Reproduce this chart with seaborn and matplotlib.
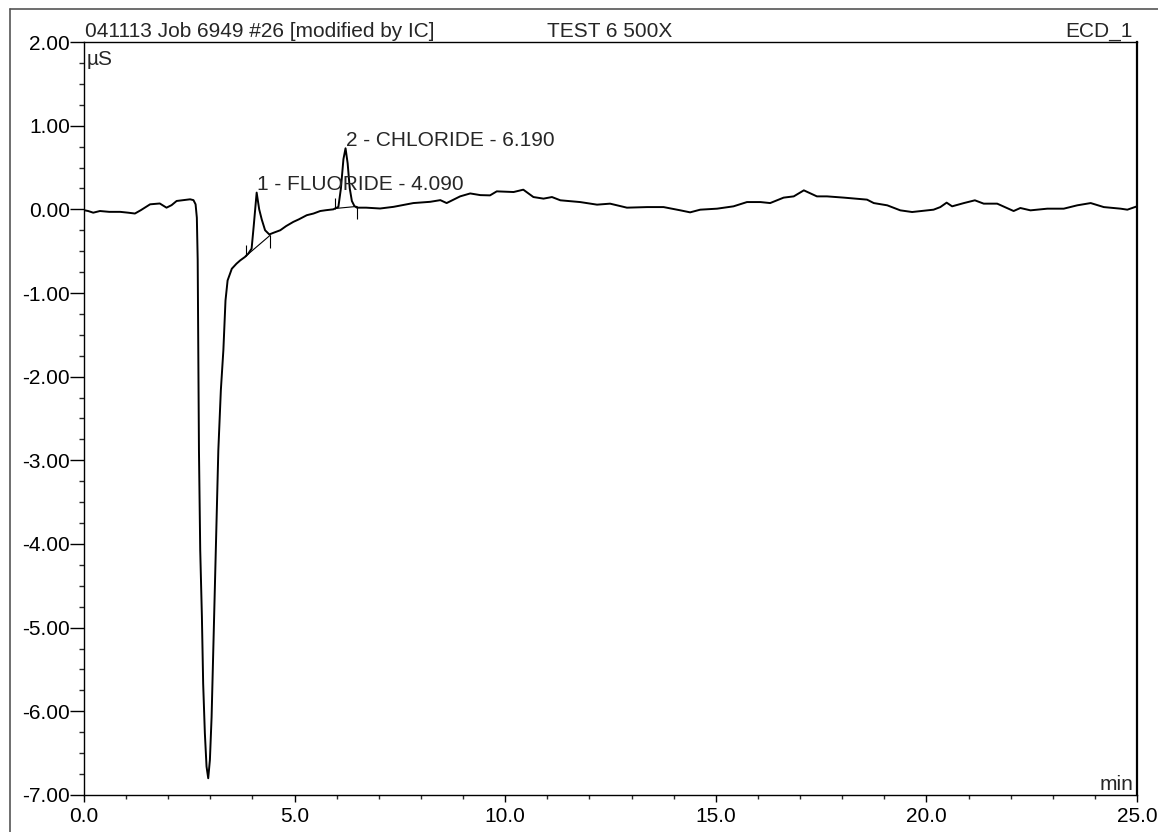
import matplotlib
matplotlib.use('Agg')
import matplotlib.pyplot as plt
import seaborn as sns
import numpy as np
import pandas as pd
from matplotlib.lines import Line2D
from matplotlib.ticker import MultipleLocator, FormatStrFormatter

# chromatogram trace (time in min, signal in uS)
time_min = [0.00, 0.10, 0.22, 0.38, 0.60, 0.86, 1.05, 1.21, 1.35, 1.57,
            1.80, 1.96, 2.08, 2.20, 2.35, 2.52, 2.60, 2.65, 2.68, 2.70,
            2.73, 2.76, 2.80, 2.83, 2.87, 2.91, 2.95, 2.99, 3.03, 3.07,
            3.11, 3.15, 3.19, 3.25, 3.31, 3.36, 3.41, 3.51, 3.62, 3.71,
            3.82, 3.90, 3.98, 4.03, 4.10, 4.16, 4.22, 4.30, 4.40, 4.50,
            4.66, 4.80, 4.97, 5.10, 5.29, 5.45, 5.61, 5.75, 5.92, 6.04,
            6.10, 6.16, 6.21, 6.26, 6.31, 6.36, 6.42, 6.48, 6.70, 7.03,
            7.35, 7.82, 8.22, 8.46, 8.61, 8.93, 9.17, 9.41, 9.64, 9.80,
            10.20, 10.43, 10.67, 10.91, 11.11, 11.31, 11.78, 12.18, 12.49, 12.89,
            13.37, 13.76, 14.16, 14.39, 14.63, 15.03, 15.42, 15.74, 16.06, 16.29,
            16.61, 16.85, 17.09, 17.40, 17.64, 18.04, 18.59, 18.75, 19.07, 19.38,
            19.66, 20.17, 20.33, 20.48, 20.61, 20.89, 21.15, 21.36, 21.68, 22.07,
            22.23, 22.47, 22.87, 23.26, 23.58, 23.90, 24.21, 24.61, 24.77, 25.00]
signal_us = [-0.01, -0.02, -0.04, -0.02, -0.03, -0.03, -0.04, -0.05, -0.01, 0.06,
             0.07, 0.02, 0.05, 0.10, 0.11, 0.12, 0.11, 0.06, -0.10, -0.60,
             -2.88, -4.07, -4.87, -5.67, -6.26, -6.66, -6.80, -6.58, -6.07, -5.27,
             -4.47, -3.68, -2.88, -2.16, -1.68, -1.09, -0.85, -0.71, -0.65, -0.61,
             -0.57, -0.53, -0.47, -0.20, 0.20, 0.00, -0.12, -0.25, -0.30, -0.28,
             -0.25, -0.20, -0.15, -0.12, -0.07, -0.05, -0.02, -0.01, 0.00, 0.03,
             0.25, 0.60, 0.73, 0.55, 0.25, 0.10, 0.04, 0.02, 0.02, 0.01,
             0.03, 0.075, 0.09, 0.11, 0.075, 0.155, 0.19, 0.17, 0.167, 0.215,
             0.207, 0.235, 0.147, 0.128, 0.147, 0.108, 0.087, 0.056, 0.068, 0.02,
             0.027, 0.027, -0.012, -0.036, -0.004, 0.008, 0.036, 0.087, 0.087, 0.075,
             0.14, 0.155, 0.227, 0.155, 0.155, 0.14, 0.116, 0.075, 0.048, -0.012,
             -0.032, -0.004, 0.027, 0.08, 0.036, 0.075, 0.108, 0.068, 0.068, -0.02,
             0.016, -0.012, 0.008, 0.008, 0.048, 0.075, 0.027, 0.008, -0.004, 0.036]

# integrated peaks
peak_labels = ['1 - FLUORIDE - 4.090', '2 - CHLORIDE - 6.190']
peak_rt = [4.10, 6.21]
peak_top = [0.20, 0.73]
base_start_t = [3.84, 5.96]
base_start_y = [-0.56, 0.01]
base_end_t = [4.42, 6.48]
base_end_y = [-0.31, 0.035]

df = pd.DataFrame({'time': time_min, 'signal': signal_us})

sns.set_style('ticks')
plt.rcParams['font.family'] = ['Liberation Sans', 'DejaVu Sans']
fs = 15

fig = plt.figure(figsize=(11.58, 8.32), dpi=100)
ax = fig.add_axes([0.0725, 0.0445, 0.9094, 0.905])

sns.lineplot(data=df, x='time', y='signal', ax=ax, color='k', lw=1.4,
             sort=False, estimator=None)

# peak baselines and delimiters
for i in range(len(peak_labels)):
    ax.plot([base_start_t[i], base_end_t[i]], [base_start_y[i], base_end_y[i]],
            color='k', lw=0.8)
    ax.vlines(base_start_t[i], base_start_y[i], base_start_y[i] + 0.13,
              color='k', lw=0.8)
    ax.vlines(base_end_t[i], base_end_y[i] - 0.15, base_end_y[i],
              color='k', lw=0.8)
    ax.text(peak_rt[i] + 0.01, peak_top[i] + 0.03, peak_labels[i], fontsize=fs,
            ha='left', va='baseline')

ax.set_xlim(0, 25)
ax.set_ylim(-7, 2)
ax.xaxis.set_major_locator(MultipleLocator(5))
ax.xaxis.set_minor_locator(MultipleLocator(1))
ax.yaxis.set_major_locator(MultipleLocator(1))
ax.yaxis.set_minor_locator(MultipleLocator(0.25))
ax.xaxis.set_major_formatter(FormatStrFormatter('%.1f'))
ax.yaxis.set_major_formatter(FormatStrFormatter('%.2f'))
ax.tick_params(axis='y', which='major', direction='out', length=10, width=1,
               labelsize=fs, pad=0, colors='k')
ax.tick_params(axis='y', which='minor', direction='out', length=3.6, width=1)
ax.tick_params(axis='x', which='major', direction='out', length=5, width=1,
               labelsize=fs, pad=4, colors='k')
ax.tick_params(axis='x', which='minor', direction='out', length=3, width=1)
ax.set_xlabel('')
ax.set_ylabel('')
for side in ['left', 'bottom', 'top']:
    ax.spines[side].set_linewidth(1.0)
    ax.spines[side].set_color('k')
ax.spines['right'].set_linewidth(1.6)
ax.spines['right'].set_color('k')

ax.text(0.003, 0.9695, 'µS', transform=ax.transAxes, fontsize=fs,
        ha='left', va='baseline')
ax.text(0.9962, 0.0066, 'min', transform=ax.transAxes, fontsize=fs,
        ha='right', va='baseline')

fig.text(0.0734, 0.9555, '041113 Job 6949 #26 [modified by IC]', fontsize=fs,
         ha='left', va='baseline')
fig.text(0.5268, 0.9555, 'TEST 6 500X', fontsize=fs, ha='center', va='baseline')
fig.text(0.9784, 0.9555, 'ECD_1', fontsize=fs, ha='right', va='baseline')

# outer page frame
fig.add_artist(Line2D([0.0086, 0.0086], [0.0, 0.989], transform=fig.transFigure,
                      color='#555555', lw=1.2))
fig.add_artist(Line2D([0.0086, 1.0], [0.989, 0.989], transform=fig.transFigure,
                      color='#555555', lw=1.2))

fig.savefig('out.png', dpi=100)
